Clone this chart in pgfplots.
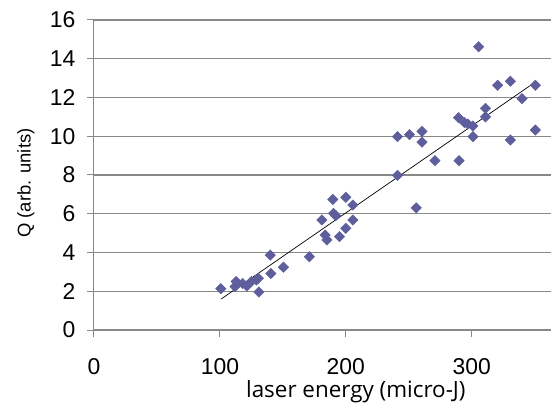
\documentclass[border=0pt]{standalone}
\usepackage{fontspec}
\setmainfont{Liberation Sans}
\newfontfamily\labfont{Open Sans}
\usepackage{pgfplots}
\pgfplotsset{compat=1.18}
\definecolor{markblue}{RGB}{94,94,156}
\definecolor{gridgray}{RGB}{136,136,136}

\begin{document}
\begin{tikzpicture}
\begin{axis}[
  scale only axis, width=457bp, height=310bp,
  xmin=0, xmax=363, ymin=0, ymax=16,
  xtick={0,100,200,300}, ytick={0,2,...,16},
  axis x line*=bottom, axis y line*=left,
  axis line style={gridgray, line width=1bp, -},
  tick align=outside, tick pos=left, major tick length=7bp,
  tick style={gridgray, line width=1bp},
  ymajorgrids, grid style={gridgray, line width=1.1bp},
  tick label style={font=\fontsize{23}{26}\selectfont},
  /pgf/number format/assume math mode=true,
  xticklabel style={yshift=-18bp},
  yticklabel style={xshift=-8bp},
  xlabel={\labfont\fontsize{22.5}{25}\selectfont laser energy (micro-J)},
  ylabel={\fontsize{18.5}{21}\selectfont Q (arb. units)},
  xlabel style={at={(axis description cs:0.573,-0.2)}, anchor=center},
  ylabel style={at={(axis description cs:-0.149,0.474)}, anchor=center},
  clip=false,
]
\addplot[only marks, mark=square*, mark size=3.7bp, mark options={rotate=45, markblue, draw=markblue}]
  coordinates {
  (100.7,2.13)(112.9,2.5)(112,2.24)(121.4,2.27)(118,2.4)(125,2.5)
  (130.6,2.67)(129,2.58)(131,1.96)
  (140,3.87)(140.5,2.92)(150.5,3.24)(171,3.78)
  (181,5.68)(183.6,4.9)(185,4.65)(189.7,6.74)(190.2,6.02)(192,5.9)
  (195,4.82)(200,6.85)(200,5.25)(205.6,6.45)(205.6,5.68)
  (241,7.98)(241,9.98)(250.6,10.08)(256,6.3)(260.5,10.25)(260.5,9.7)
  (270.8,8.74)(290,8.74)(289.6,10.96)(294.3,10.7)(297,10.63)(301,10.53)
  (301,9.98)(305.5,14.62)(311,11.44)(311,11.0)(320.6,12.63)(330.7,12.84)
  (330.7,9.81)(340,11.94)(350.6,12.63)(350.6,10.32)
  };
\addplot[black, line width=0.7bp] coordinates {(101,1.6)(350.6,12.8)};
\end{axis}
\pgfresetboundingbox
\path (-94bp,-78bp) rectangle (457bp,330bp);
\end{tikzpicture}
\end{document}
